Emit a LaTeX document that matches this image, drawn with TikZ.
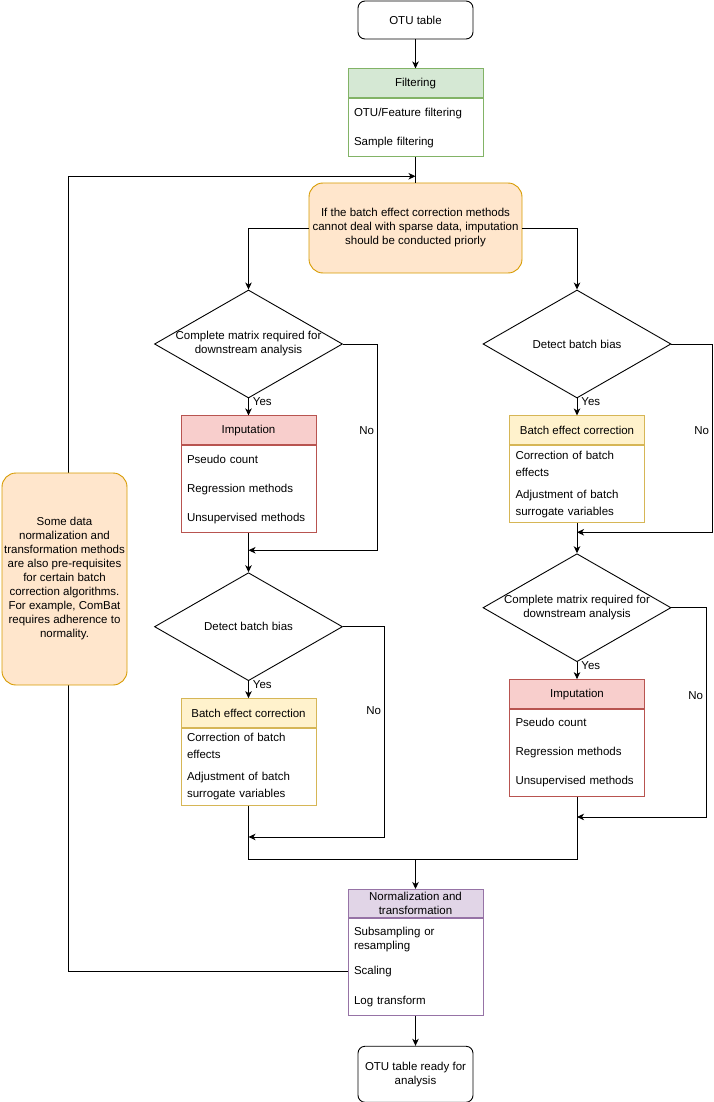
\documentclass[tikz,border=0pt]{standalone}
\usepackage{fontspec}
\setmainfont{Liberation Sans}
\usepackage{xcolor}
\usetikzlibrary{positioning, arrows.meta, calc, shapes.geometric}
\definecolor{filtfill}{HTML}{D5E8D4}
\definecolor{filtline}{HTML}{82B366}
\definecolor{impfill}{HTML}{F8CECC}
\definecolor{impline}{HTML}{B85450}
\definecolor{batfill}{HTML}{FFF2CC}
\definecolor{batline}{HTML}{D6B656}
\definecolor{normfill}{HTML}{E1D5E7}
\definecolor{normline}{HTML}{9673A6}
\definecolor{notefill}{HTML}{FFE6CC}
\definecolor{noteline}{HTML}{D79B00}

\begin{document}
\begin{tikzpicture}[
        x=1pt, y=-1pt,
        font=\fontsize{11.5}{14}\selectfont,
        terminal/.style={rectangle, draw, rounded corners=7pt, minimum width=115pt, align=center, line width=0.9pt},
        header/.style={rectangle, draw=#1line, fill=#1fill, minimum width=135pt, minimum height=29pt, inner sep=1pt, align=center, line width=0.9pt},
        body/.style={rectangle, draw=#1line, fill=white, text width=123pt, inner xsep=6pt, inner ysep=0pt, align=left, line width=0.9pt},
        decision/.style={diamond, draw, minimum width=188pt, minimum height=108pt, inner sep=0pt, line width=0.9pt},
        note/.style={rectangle, draw=noteline, fill=notefill, rounded corners=14pt, align=center, inner sep=0pt, line width=0.9pt},
        arrow/.style={-{Stealth[length=7pt, width=6.5pt, inset=2pt]}, line width=0.9pt},
        link/.style={line width=0.9pt},
        answer/.style={inner sep=1pt}
    ]
        \useasboundingbox (0,0) rectangle (713,1102);

        % Input table
        \node[terminal, minimum height=38pt] (otu) at (415.5,20) {OTU table};

        % Filtering
        \node[header=filt, below=29pt of otu] (filthdr) {Filtering};
        \node[body=filt, minimum height=58pt, below=0pt of filthdr] (filtbody) {OTU/Feature filtering\\[15pt]Sample filtering};

        % Caveat on sparse data
        \node[note, minimum width=213pt, minimum height=90pt] (caveat) at (415.5,228) {If the batch effect correction methods\\cannot deal with sparse data, imputation\\should be conducted priorly};

        % Left branch: imputation first
        \node[decision, label={[align=center]center:Complete matrix required for\\downstream analysis}] (dl1) at (248.5,344) {};
        \node[header=imp, below=17pt of dl1] (implhdr) {Imputation};
        \node[body=imp, minimum height=87pt, below=0pt of implhdr] (implbody) {Pseudo count\\[15pt]Regression methods\\[15pt]Unsupervised methods};
        \node[decision, below=39pt of implbody, label=center:Detect batch bias] (dl2) {};
        \node[header=bat, below=17pt of dl2] (batlhdr) {Batch effect correction};
        \node[body=bat, minimum height=77pt, below=0pt of batlhdr] (batlbody) {Correction of batch\\[3pt]effects\\[8pt]Adjustment of batch\\[3pt]surrogate variables};

        % Right branch: batch correction first
        \node[decision, label=center:Detect batch bias] (dr1) at (577,344) {};
        \node[header=bat, below=17pt of dr1] (batrhdr) {Batch effect correction};
        \node[body=bat, minimum height=77pt, below=0pt of batrhdr] (batrbody) {Correction of batch\\[3pt]effects\\[8pt]Adjustment of batch\\[3pt]surrogate variables};
        \node[decision, below=30pt of batrbody, label={[align=center]center:Complete matrix required for\\downstream analysis}] (dr2) {};
        \node[header=imp, below=17pt of dr2] (imprhdr) {Imputation};
        \node[body=imp, minimum height=87pt, below=0pt of imprhdr] (imprbody) {Pseudo count\\[15pt]Regression methods\\[15pt]Unsupervised methods};

        % Normalization
        \node[header=norm, minimum height=28pt, anchor=north] (normhdr) at (415.5,889) {Normalization and\\transformation};
        \node[body=norm, minimum height=97pt, below=0pt of normhdr] (normbody) {Subsampling or\\resampling\\[11pt]Scaling\\[16pt]Log transform};

        % Output table
        \node[terminal, minimum height=56pt, below=30pt of normbody] (ready) {OTU table ready for\\analysis};

        % Joints
        \coordinate (back) at ($(filtbody.south)+(0,19)$);
        \coordinate (jl1) at ($(implbody.south)+(0,17)$);
        \coordinate (jl2) at ($(batlbody.south)+(0,31)$);
        \coordinate (jr1) at ($(batrbody.south)+(0,9)$);
        \coordinate (jr2) at ($(imprbody.south)+(0,20)$);
        \coordinate (merge) at ($(normhdr.north)+(0,-30)$);
        \coordinate (scaling) at ($(normbody.north west)+(0,54)$);
        \path (back) ++(-347.5,0) coordinate (bend);

        % Arrows
        \draw[arrow] (otu) -- (filthdr);
        \draw[link] (filtbody) -- (caveat);
        \draw[arrow] (caveat.west) -| (dl1.north);
        \draw[arrow] (caveat.east) -| (dr1.north);

        \draw[arrow] (dl1) -- node[answer, pos=0.2, anchor=west, xshift=3pt] {Yes} (implhdr);
        \draw[arrow] (dl1.east) -- ++(34.5,0) |- node[answer, pos=0.21, anchor=east, xshift=-2pt] {No} (jl1);
        \draw[arrow] (implbody) -- (dl2);
        \draw[arrow] (dl2) -- node[answer, pos=0.2, anchor=west, xshift=3pt] {Yes} (batlhdr);
        \draw[arrow] (dl2.east) -- ++(41.5,0) |- node[answer, pos=0.2, anchor=east, xshift=-2pt] {No} (jl2);

        \draw[arrow] (dr1) -- node[answer, pos=0.2, anchor=west, xshift=3pt] {Yes} (batrhdr);
        \draw[arrow] (dr1.east) -- ++(41,0) |- node[answer, pos=0.23, anchor=east, xshift=-2pt] {No} (jr1);
        \draw[arrow] (batrbody) -- (dr2);
        \draw[arrow] (dr2) -- node[answer, pos=0.2, anchor=west, xshift=3pt] {Yes} (imprhdr);
        \draw[arrow] (dr2.east) -- ++(35,0) |- node[answer, pos=0.21, anchor=east, xshift=-2pt] {No} (jr2);

        \draw[link] (batlbody) |- (merge);
        \draw[link] (imprbody) |- (merge);
        \draw[arrow] (merge) -- (normhdr);
        \draw[arrow] (normbody) -- (ready);

        % Loop back
        \draw[arrow] (scaling) -| (bend) -- (back);

        % Side remark
        \node[note, minimum width=125pt, minimum height=212pt] (remark) at (64.5,579) {Some data\\normalization and\\transformation methods\\are also pre-requisites\\for certain batch\\correction algorithms.\\For example, ComBat\\requires adherence to\\normality.};
    \end{tikzpicture}
\end{document}
